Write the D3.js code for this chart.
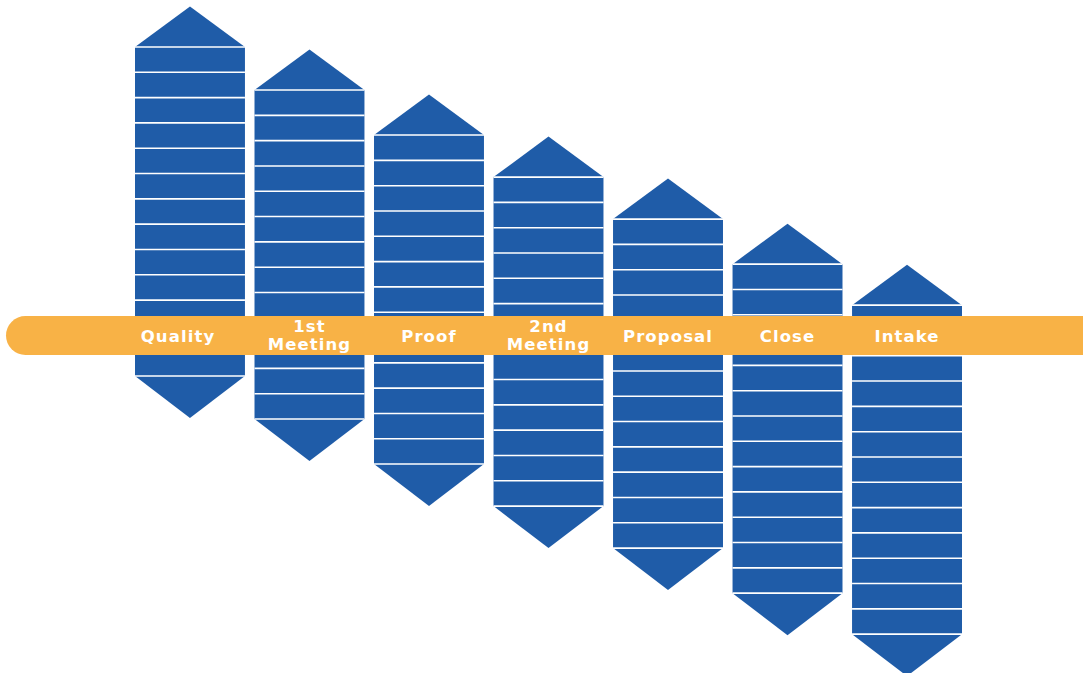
<!DOCTYPE html>
<html>
<head>
<meta charset="utf-8">
<script src="https://cdn.jsdelivr.net/npm/d3@7"></script>
<style>
  html, body { margin: 0; padding: 0; background: #fff; }
  svg { display: block; }
</style>
</head>
<body>
<svg id="canvas" width="1083" height="673"></svg>
<script>
// stages, left to right
let stages = ['Quality', '1st Meeting', 'Proof', '2nd Meeting', 'Proposal', 'Close', 'Intake'];
// where each column body starts (in segment units from the top)
let startLevels = [0, 1.7, 3.48, 5.14, 6.8, 8.58, 10.2];
// how many segments each column has
let segmentCounts = [13, 13, 13, 13, 13, 13, 13];

let blue = '#1f5ca8';
let orange = '#f8b246';

let canvas = d3.select('#canvas');

let xScale = d3.scaleBand()
                .domain(stages)
                .range([135, 962])
                .paddingInner(0.08);

let yScale = d3.scaleLinear()
                .domain([0, 13])
                .range([47, 376]);

let arrowUp = 1.6;   // in segment units
let arrowDown = 1.66;

let columns = stages.map((name, i) => {
    return {name: name, start: startLevels[i], count: segmentCounts[i]};
});

let block = canvas.selectAll('g.col')
                    .data(columns)
                    .enter()
                    .append('g')
                    .attr('class', 'col')
                    .attr('transform', (d) => 'translate(' + xScale(d.name) + ',0)');

let w = xScale.bandwidth();

// body
block.append('rect')
    .attr('x', 0)
    .attr('y', (d) => yScale(d.start))
    .attr('width', w)
    .attr('height', (d) => yScale(d.start + d.count) - yScale(d.start))
    .attr('fill', blue);

// top arrow
block.append('path')
    .attr('d', (d) => {
        let base = yScale(d.start);
        let tip = yScale(d.start - arrowUp);
        return 'M0,' + base + 'L' + (w / 2) + ',' + tip + 'L' + w + ',' + base + 'Z';
    })
    .attr('fill', blue);

// bottom arrow
block.append('path')
    .attr('d', (d) => {
        let base = yScale(d.start + d.count);
        let tip = yScale(d.start + d.count + arrowDown);
        return 'M0,' + base + 'L' + (w / 2) + ',' + tip + 'L' + w + ',' + base + 'Z';
    })
    .attr('fill', blue);

// segment lines
block.selectAll('line')
    .data((d) => d3.range(d.count + 1).map((k) => d.start + k))
    .enter()
    .append('line')
    .attr('x1', 0)
    .attr('x2', w)
    .attr('y1', (v) => yScale(v))
    .attr('y2', (v) => yScale(v))
    .attr('stroke', '#fff')
    .attr('stroke-width', 1.6);

// orange band
canvas.append('rect')
    .attr('x', 6)
    .attr('y', 316)
    .attr('width', 1110)
    .attr('height', 39)
    .attr('rx', 19.5)
    .attr('fill', orange);

// labels
let labels = canvas.selectAll('text.label')
                    .data(stages)
                    .enter()
                    .append('text')
                    .attr('class', 'label')
                    .attr('text-anchor', 'middle')
                    .attr('fill', '#fff')
                    .attr('font-family', '"DejaVu Sans", sans-serif')
                    .attr('font-weight', 'bold')
                    .attr('font-size', 16.5)
                    .attr('letter-spacing', 1.1);

labels.each(function (name, i) {
    let parts = name.split(' ');
    let cx = xScale(name) + w / 2 + (i === 0 ? -12 : 0);
    let t = d3.select(this);
    if (parts.length === 1) {
        t.append('tspan').attr('x', cx).attr('y', 342).text(name);
    } else {
        t.append('tspan').attr('x', cx).attr('y', 332).text(parts[0]);
        t.append('tspan').attr('x', cx).attr('y', 350).text(parts[1]);
    }
});
</script>
</body>
</html>
